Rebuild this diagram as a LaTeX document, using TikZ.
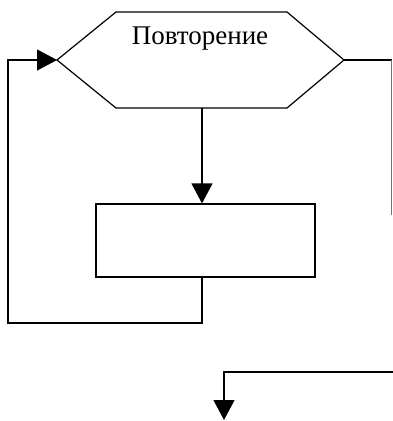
\documentclass[tikz,border=0pt]{standalone}
\usepackage{fontspec}
\setmainfont{Liberation Serif}
\usetikzlibrary{arrows.meta}
\begin{document}
\begin{tikzpicture}[x=1pt,y=-1pt,
  conn/.style={line width=1.2pt,black},
  flow/.style={conn,-{Triangle[length=20pt,width=21pt]}},
  procbox/.style={draw,line width=1.2pt,minimum width=219pt,minimum height=73pt,inner sep=0pt}]
\useasboundingbox (0,0) rectangle (392,421);
% hexagon (loop header)
\coordinate (hw) at (57,60);
\coordinate (he) at (344,60);
\coordinate (hs) at (202,108);
\draw[line width=1.2pt,line join=miter] (116,12) -- (287,12) -- (he) -- (287,108) -- (116,108) -- (hw) -- cycle;
\node[font=\fontsize{27}{31}\selectfont,inner sep=0pt] (lbl) at (200,39) {Повторение};
% process box
\node[procbox] (box) at (205.5,240.5) {};
\coordinate (bt) at (box.north -| hs);
\coordinate (bb) at (box.south -| hs);
\coordinate (l1) at (202,323);
\coordinate (l2) at (8,323);
\coordinate (l3) at (8,60);
\draw[flow] (hs) -- (bt);
\draw[flow] (bb) -- (l1) -- (l2) -- (l3) -- (hw);
% exit line
\coordinate (r1) at (391.5,60);
\coordinate (r2) at (391.5,215);
\draw[conn] (he) -- (r1);
\draw[line width=1pt,black!55] (r1) -- (r2);
\coordinate (e1) at (393,372);
\coordinate (e2) at (224,372);
\coordinate (e3) at (224,420);
\draw[flow] (e1) -- (e2) -- (e3);
\end{tikzpicture}
\end{document}
